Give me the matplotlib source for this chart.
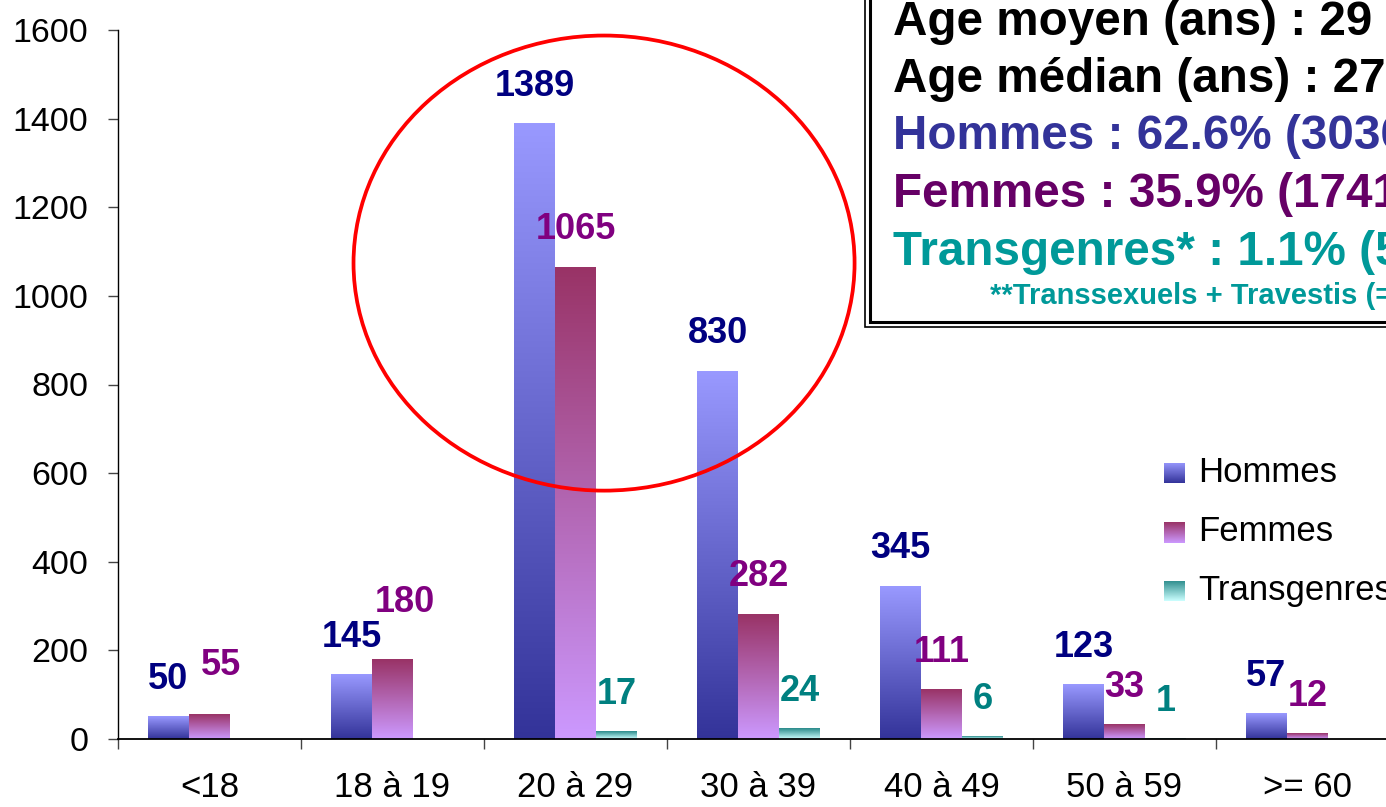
import numpy as np
import matplotlib
matplotlib.use('Agg')
import matplotlib.pyplot as plt
from matplotlib.colors import LinearSegmentedColormap
from matplotlib.patches import Ellipse, Rectangle

plt.rcParams['font.family'] = ['Liberation Sans', 'DejaVu Sans']

# data
categories = ['<18', '18 à 19', '20 à 29', '30 à 39', '40 à 49', '50 à 59', '>= 60']
series_names = ['Hommes', 'Femmes', 'Transgenres']
hommes = [50, 145, 1389, 830, 345, 123, 57]
femmes = [55, 180, 1065, 282, 111, 33, 12]
transgenres = [0, 0, 17, 24, 6, 1, 0]

box_lines = ['Age moyen (ans) : 29',
             'Age médian (ans) : 27',
             'Hommes : 62.6% (3036)',
             'Femmes : 35.9% (1741)',
             'Transgenres* : 1.1% (53)']
footnote = '**Transsexuels + Travestis (=Transgenres)'

W, H = 1386, 807
fig = plt.figure(figsize=(W / 100, H / 100), dpi=100)
ax = fig.add_axes([118 / W, 1 - 739 / H, (1399 - 118) / W, 709 / H])

# gradient colours (bottom, top) and label colours
grads = [('#333399', '#9999FF'), ('#CC99FF', '#993366'), ('#CCFFFF', '#2A8A8A')]
label_cols = ['#000080', '#800080', '#008080']
values = [hommes, femmes, transgenres]

x = np.arange(len(categories))
bw = 0.224
offsets = [-bw, 0, bw]
g = np.linspace(0, 1, 256).reshape(-1, 1)

# a couple of labels were moved by hand in the original
label_shift = {(0, 1): (8.6, 28.4), (1, 1): (8.6, 33.8)}

for i, vals in enumerate(values):
    cmap = LinearSegmentedColormap.from_list('g%d' % i, list(grads[i]))
    bars = ax.bar(x + offsets[i], vals, bw, color='none', edgecolor='none')
    for j, (b, v) in enumerate(zip(bars, vals)):
        if v <= 0:
            continue
        ax.imshow(g, cmap=cmap, origin='lower', aspect='auto', interpolation='bilinear',
                  extent=[b.get_x(), b.get_x() + b.get_width(), 0, v], zorder=2)
        dx, dy = label_shift.get((j, i), (0, 20))
        ax.annotate(str(v), (b.get_x() + b.get_width() / 2, v), xytext=(dx, dy),
                    textcoords='offset points', ha='center', va='baseline',
                    fontsize=26, fontweight='bold', color=label_cols[i], zorder=5)

ax.add_patch(Ellipse((2.156, 1074), 2.738, 1027, fill=False, edgecolor='#FF0000',
                     lw=2.7, zorder=4, clip_on=False))

ax.set_xlim(-0.5, 6.5)
ax.set_ylim(0, 1600)
ax.set_yticks(np.arange(0, 1601, 200))
ax.set_xticks(x)
ax.set_xticklabels(categories)
ax.set_xticks(np.arange(-0.5, 7, 1), minor=True)
ax.tick_params(axis='x', which='major', length=0, pad=23, labelsize=25)
ax.tick_params(axis='x', which='minor', length=7.2, width=1, color='#444444')
ax.tick_params(axis='y', length=7.2, width=1, pad=14, labelsize=24.5, color='#444444')
for s in ['top', 'right']:
    ax.spines[s].set_visible(False)
ax.spines['bottom'].set_linewidth(1.3)
ax.spines['left'].set_linewidth(1.0)

# legend drawn by hand so the keys keep their gradient
leg_y = [473, 532, 591]
leg_base = [482, 541, 600]
for i, name in enumerate(series_names):
    cmap = LinearSegmentedColormap.from_list('l%d' % i, list(grads[i]))
    lax = fig.add_axes([1164 / W, 1 - (leg_y[i] + 10.5) / H, 21 / W, 21 / H])
    lax.imshow(g, cmap=cmap, origin='lower', aspect='auto', interpolation='bilinear')
    lax.axis('off')
    fig.text(1198 / W, 1 - leg_base[i] / H, name, fontsize=25, va='baseline', ha='left')

# text box with double border
fig.patches.append(Rectangle((865 / W, 1 - 327 / H), 600 / W, 400 / H, transform=fig.transFigure,
                             facecolor='white', edgecolor='black', lw=1.2, zorder=1))
fig.patches.append(Rectangle((870 / W, 1 - 322 / H), 600 / W, 400 / H, transform=fig.transFigure,
                             facecolor='white', edgecolor='black', lw=2.2, zorder=1))
box_cols = ['black', 'black', '#333399', '#660066', '#009999']
box_base = [35, 92, 149, 207, 265]
for line, c, yb in zip(box_lines, box_cols, box_base):
    fig.text(893 / W, 1 - yb / H, line, fontsize=34.3, fontweight='bold', color=c,
             va='baseline', ha='left', zorder=3)
fig.text(990 / W, 1 - 304 / H, footnote, fontsize=21, fontweight='bold', color='#009999',
         va='baseline', ha='left', zorder=3)

fig.savefig('out.png', dpi=100)
